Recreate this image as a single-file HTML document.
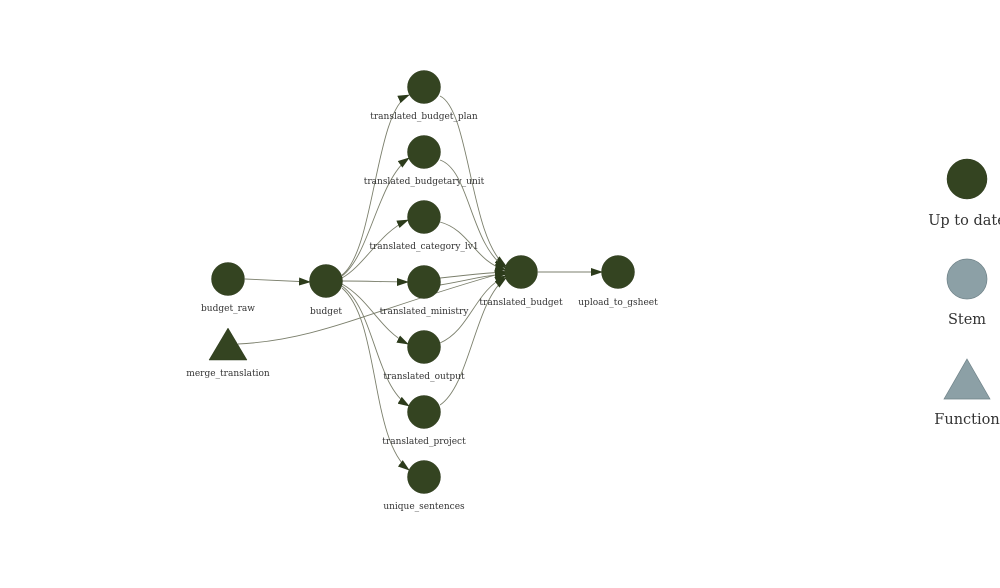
<!DOCTYPE html>
<html><head><meta charset="utf-8"><style>
html,body{margin:0;padding:0;background:#fff;}
svg{display:block;}
text{font-family:"DejaVu Serif","Liberation Serif",serif;fill:#333;}
.l{font-size:9px;text-anchor:middle;}
.g{font-size:14.5px;text-anchor:middle;}
path.e{fill:none;stroke:#7b7f6c;stroke-width:0.9;}
</style></head><body>
<svg width="1000" height="588" viewBox="0 0 1000 588" xmlns="http://www.w3.org/2000/svg">
<defs>
<marker id="a" markerWidth="12" markerHeight="8" refX="11" refY="4" orient="auto" markerUnits="userSpaceOnUse">
<path d="M0,0 L12,4 L0,8 Z" fill="#2c3b1b"/>
</marker>
</defs>
<!-- edges -->
<path class="e" d="M245,279 L310,282" marker-end="url(#a)"/>
<path class="e" d="M342,275 C375,250 375,110 409,95" marker-end="url(#a)"/>
<path class="e" d="M342,276 C370,255 378,180 409,158" marker-end="url(#a)"/>
<path class="e" d="M342,278 C365,265 380,232 408,220" marker-end="url(#a)"/>
<path class="e" d="M342,281 C370,281 385,282 408,282" marker-end="url(#a)"/>
<path class="e" d="M342,284 C370,300 380,330 408,344" marker-end="url(#a)"/>
<path class="e" d="M342,286 C375,310 375,385 409,406" marker-end="url(#a)"/>
<path class="e" d="M342,288 C380,320 370,440 409,470" marker-end="url(#a)"/>
<path class="e" d="M238,344 C320,340 370,310 506,272" marker-end="url(#a)"/>
<path class="e" d="M440,96 C470,110 470,240 506,266" marker-end="url(#a)"/>
<path class="e" d="M440,160 C470,170 470,245 506,268" marker-end="url(#a)"/>
<path class="e" d="M440,222 C470,230 475,262 506,270" marker-end="url(#a)"/>
<path class="e" d="M440,278 C470,275 480,273 506,272" marker-end="url(#a)"/>
<path class="e" d="M440,285 C470,280 480,276 506,274" marker-end="url(#a)"/>
<path class="e" d="M440,343 C470,330 475,290 506,276" marker-end="url(#a)"/>
<path class="e" d="M440,405 C470,385 475,300 506,278" marker-end="url(#a)"/>
<path class="e" d="M538,272 L602,272" marker-end="url(#a)"/>
<!-- nodes -->
<g fill="#344421" stroke="#2d3a1c" stroke-width="0.5">
<circle cx="228" cy="279" r="16.5"/>
<circle cx="326" cy="281" r="16.5"/>
<circle cx="424" cy="87" r="16.5"/>
<circle cx="424" cy="152" r="16.5"/>
<circle cx="424" cy="217" r="16.5"/>
<circle cx="424" cy="282" r="16.5"/>
<circle cx="424" cy="347" r="16.5"/>
<circle cx="424" cy="412" r="16.5"/>
<circle cx="424" cy="477" r="16.5"/>
<circle cx="521" cy="272" r="16.5"/>
<circle cx="618" cy="272" r="16.5"/>
<polygon points="228,328 247,360 209,360"/>
<circle cx="967" cy="179" r="20"/>
</g>
<circle cx="967" cy="279" r="20" fill="#8ca0a6" stroke="#6f8288" stroke-width="0.7"/>
<polygon points="967,359 990,399 944,399" fill="#8ca0a6" stroke="#6f8288" stroke-width="0.7"/>
<!-- labels -->
<text class="l" x="228" y="311">budget_raw</text>
<text class="l" x="326" y="314">budget</text>
<text class="l" x="228" y="376">merge_translation</text>
<text class="l" x="424" y="119">translated_budget_plan</text>
<text class="l" x="424" y="184">translated_budgetary_unit</text>
<text class="l" x="424" y="249">translated_category_lv1</text>
<text class="l" x="424" y="314">translated_ministry</text>
<text class="l" x="424" y="379">translated_output</text>
<text class="l" x="424" y="444">translated_project</text>
<text class="l" x="424" y="509">unique_sentences</text>
<text class="l" x="521" y="305">translated_budget</text>
<text class="l" x="618" y="305">upload_to_gsheet</text>
<text class="g" x="967" y="225">Up to date</text>
<text class="g" x="967" y="324">Stem</text>
<text class="g" x="967" y="424">Function</text>
</svg>
</body></html>
